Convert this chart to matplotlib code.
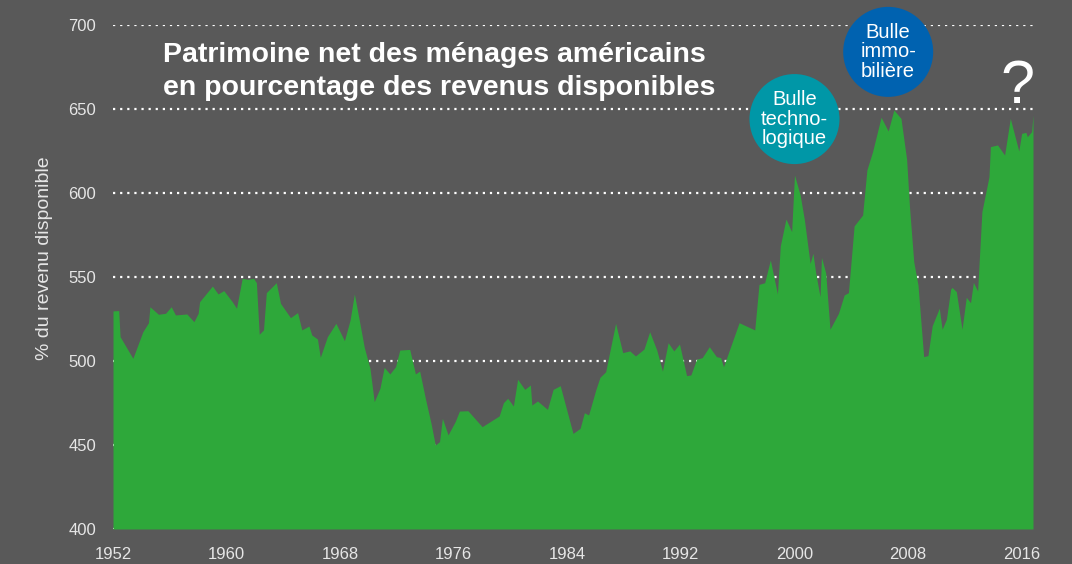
import matplotlib
matplotlib.use("Agg")
import matplotlib.pyplot as plt

# Patrimoine net des ménages américains (% du revenu disponible)
years = [1952.0, 1952.4, 1952.5, 1953.4, 1954.1, 1954.5, 1954.6, 1955.2, 1955.7, 1956.1,
         1956.4, 1957.2, 1957.7, 1958.0, 1958.1, 1959.0, 1959.4, 1959.8, 1960.4, 1960.7,
         1961.1, 1961.5, 1961.9, 1962.1, 1962.3, 1962.6, 1962.8, 1963.5, 1963.8, 1964.5,
         1965.0, 1965.3, 1965.8, 1966.0, 1966.4, 1966.6, 1967.1, 1967.7, 1968.3, 1968.7,
         1969.0, 1969.3, 1969.7, 1970.1, 1970.4, 1970.8, 1971.1, 1971.5, 1971.9, 1972.2,
         1972.9, 1973.3, 1973.6, 1974.0, 1974.4, 1974.7, 1975.0, 1975.2, 1975.6, 1976.1,
         1976.4, 1977.0, 1978.0, 1979.2, 1979.5, 1979.8, 1980.2, 1980.5, 1981.0, 1981.4,
         1981.5, 1981.9, 1982.6, 1983.0, 1983.5, 1984.4, 1984.9, 1985.2, 1985.5, 1986.0,
         1986.3, 1986.7, 1987.4, 1987.9, 1988.4, 1988.8, 1989.4, 1989.8, 1990.3, 1990.7,
         1991.1, 1991.5, 1991.9, 1992.4, 1992.7, 1993.1, 1993.5, 1994.0, 1994.5, 1994.8,
         1995.0, 1996.1, 1997.2, 1997.5, 1997.9, 1998.3, 1998.8, 1999.0, 1999.4, 1999.8,
         2000.0, 2000.4, 2000.7, 2001.1, 2001.3, 2001.5, 2001.8, 2001.9, 2002.2, 2002.5,
         2003.1, 2003.5, 2003.8, 2004.2, 2004.8, 2005.1, 2005.5, 2006.1, 2006.6, 2007.0,
         2007.5, 2007.9, 2008.1, 2008.4, 2008.7, 2009.1, 2009.4, 2009.7, 2010.2, 2010.4,
         2010.7, 2011.0, 2011.1, 2011.4, 2011.8, 2012.1, 2012.4, 2012.6, 2012.9, 2013.2,
         2013.7, 2013.8, 2014.3, 2014.8, 2015.2, 2015.8, 2016.0, 2016.3, 2016.4, 2016.7,
         2016.8]
values = [529.8, 530.0, 514.5, 501.6, 517.4, 522.8, 532.3, 527.8, 528.4, 532.3,
          527.4, 528.0, 523.4, 528.4, 535.3, 544.6, 539.9, 541.9, 535.3, 531.4,
          549.2, 548.6, 549.2, 546.6, 515.9, 518.5, 540.7, 546.6, 534.3, 525.8,
          528.8, 518.5, 520.8, 515.5, 513.1, 502.2, 514.5, 522.4, 512.1, 524.4,
          539.9, 526.4, 508.1, 495.6, 475.8, 483.7, 496.2, 492.3, 496.6, 506.5,
          506.9, 492.3, 494.0, 477.8, 462.9, 450.0, 452.0, 465.9, 456.0, 463.9,
          470.2, 470.4, 460.9, 467.3, 475.2, 477.8, 473.2, 489.1, 483.1, 485.7,
          473.8, 476.2, 471.2, 483.1, 485.3, 456.9, 459.9, 469.2, 467.9, 482.7,
          490.3, 493.6, 522.4, 505.0, 506.0, 503.0, 507.1, 517.4, 506.5, 494.0,
          510.9, 506.0, 510.1, 491.3, 491.7, 501.0, 502.0, 508.5, 502.6, 502.0,
          496.6, 522.8, 518.5, 545.6, 546.6, 560.1, 539.9, 568.5, 584.5, 577.0,
          610.7, 598.8, 583.9, 558.1, 564.1, 552.2, 538.3, 561.7, 552.4, 518.9,
          528.4, 539.3, 540.7, 580.4, 586.9, 613.7, 624.6, 645.1, 636.9, 649.4,
          644.4, 620.0, 591.9, 559.1, 545.2, 502.6, 503.2, 521.0, 531.4, 518.9,
          524.8, 542.7, 543.8, 541.3, 518.9, 537.9, 534.7, 546.8, 541.7, 588.9,
          609.7, 627.6, 628.6, 622.6, 644.4, 625.0, 635.5, 636.1, 633.5, 636.5,
          646.4]

x_ticks = [1952, 1960, 1968, 1976, 1984, 1992, 2000, 2008, 2016]
y_ticks = [400, 450, 500, 550, 600, 650, 700]

bubble_labels = ["Bulle\ntechno-\nlogique", "Bulle\nimmo-\nbilière"]
bubble_x = [2000.0, 2006.6]
bubble_y = [644, 684]
bubble_colors = ["#0097a7", "#0062b0"]

bg = "#595959"
green = "#2ea83a"
light = "#e6e6e6"

plt.rcParams["font.family"] = ["Liberation Sans", "DejaVu Sans"]

fig = plt.figure(figsize=(10.72, 5.64), dpi=100, facecolor=bg)
ax = fig.add_axes([113 / 1072, 35 / 564, 920 / 1072, 504 / 564])
ax.set_facecolor(bg)

ax.fill_between(years, values, 400, color=green, linewidth=0, zorder=2)

ax.set_xlim(1952, 2016.8)
ax.set_ylim(400, 700)
ax.set_xticks(x_ticks)
ax.set_yticks(y_ticks)
ax.tick_params(axis="both", length=0, colors=light, labelsize=12)
ax.tick_params(axis="x", pad=13)
ax.tick_params(axis="y", pad=12)
for s in ax.spines.values():
    s.set_visible(False)
ax.grid(axis="y", color="white", linestyle=(0, (1, 2.2)), linewidth=1.6, zorder=1)
ax.grid(axis="x", visible=False)

fig.text(45 / 1072, 1 - 258 / 564, "% du revenu disponible", rotation=90,
         color=light, fontsize=14, ha="center", va="center")

ax.text(1955.5, 690, "Patrimoine net des ménages américains\nen pourcentage des revenus disponibles",
        color="white", fontsize=20.5, fontweight="bold", ha="left", va="top",
        linespacing=1.35, zorder=5)

ax.scatter(bubble_x, bubble_y, s=4200, c=bubble_colors, linewidths=0, clip_on=False, zorder=6)
for lab, bx, by in zip(bubble_labels, bubble_x, bubble_y):
    ax.text(bx, by, lab, color="white", fontsize=14.5, ha="center", va="center",
            linespacing=1.05, zorder=7, clip_on=False)

ax.text(2015.7, 663, "?", color="white", fontsize=44, ha="center", va="center", zorder=7)

fig.savefig("out.png", dpi=100, facecolor=bg)
